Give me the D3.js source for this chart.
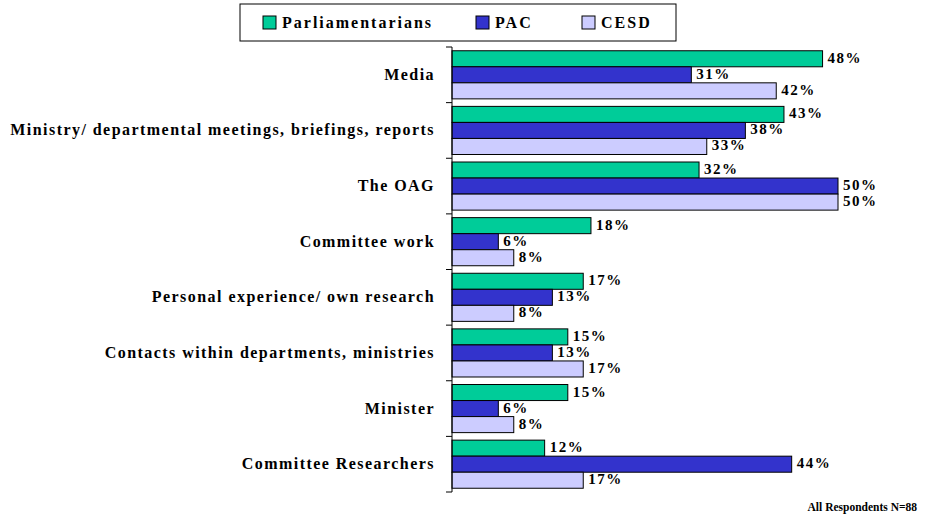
<!DOCTYPE html>
<html>
<head>
<meta charset="utf-8">
<script src="https://cdn.jsdelivr.net/npm/d3@7"></script>
<style>
    body { margin: 0; background: #fff; }
</style>
</head>
<body>
<div id="graph"></div>
<script>
    "use strict";

    var categories = [
        "Media",
        "Ministry/ departmental meetings, briefings, reports",
        "The OAG",
        "Committee work",
        "Personal experience/ own research",
        "Contacts within departments, ministries",
        "Minister",
        "Committee Researchers"
    ];
    var seriesNames = ["Parliamentarians", "PAC", "CESD"];
    var parliamentarians = [48, 43, 32, 18, 17, 15, 15, 12];
    var pac = [31, 38, 50, 6, 13, 13, 6, 44];
    var cesd = [42, 33, 50, 8, 8, 17, 8, 17];
    var seriesColors = ["#00cc99", "#3333cc", "#ccccff"];
    var footnote = "All Respondents N=88";

    var allSeries = [parliamentarians, pac, cesd];
    var serif = "'Liberation Serif', 'Times New Roman', 'DejaVu Serif', serif";

    var svg = d3.select("#graph")
        .append("svg")
        .attr("width", 933)
        .attr("height", 517)
        .attr("font-family", serif)
        .attr("font-weight", "bold");

    var x = d3.scaleLinear().domain([0, 50]).range([452, 838]);
    var y = d3.scaleBand().domain(categories).range([47, 492]).paddingInner(0.135).paddingOuter(0.0675);
    var ySub = d3.scaleBand().domain(d3.range(seriesNames.length)).range([0, y.bandwidth()]);

    // bars
    var groups = svg.selectAll("g.cat")
        .data(categories)
        .enter().append("g")
        .attr("class", "cat")
        .attr("transform", function (d) { return "translate(0," + y(d) + ")"; });

    groups.selectAll("rect")
        .data(function (d, i) { return allSeries.map(function (s, k) { return {k: k, v: s[i]}; }); })
        .enter().append("rect")
        .attr("x", x(0))
        .attr("y", function (d) { return ySub(d.k); })
        .attr("width", function (d) { return x(d.v) - x(0); })
        .attr("height", ySub.bandwidth())
        .style("fill", function (d) { return seriesColors[d.k]; })
        .style("stroke", "#000")
        .style("stroke-width", 1);

    groups.selectAll("text.val")
        .data(function (d, i) { return allSeries.map(function (s, k) { return {k: k, v: s[i]}; }); })
        .enter().append("text")
        .attr("class", "val")
        .attr("x", function (d) { return x(d.v) + 5; })
        .attr("y", function (d) { return ySub(d.k) + ySub.bandwidth() / 2 + 4; })
        .style("font-size", "15px")
        .style("letter-spacing", "1.5px")
        .text(function (d) { return d.v + "%"; });

    // axis
    var axisG = svg.append("g");
    axisG.append("line")
        .attr("x1", x(0)).attr("x2", x(0))
        .attr("y1", 47).attr("y2", 492)
        .style("stroke", "#000");
    var edges = categories.map(function (d) { return y(d) - y.step() * y.paddingInner() / 2; });
    edges.push(492);
    axisG.selectAll("line.tick")
        .data(edges)
        .enter().append("line")
        .attr("class", "tick")
        .attr("x1", x(0) - 6).attr("x2", x(0))
        .attr("y1", function (d) { return d; }).attr("y2", function (d) { return d; })
        .style("stroke", "#000");

    svg.selectAll("text.cat")
        .data(categories)
        .enter().append("text")
        .attr("class", "cat")
        .attr("x", 435)
        .attr("y", function (d) { return y(d) + y.bandwidth() / 2 + 5; })
        .attr("text-anchor", "end")
        .style("font-size", "16px")
        .style("letter-spacing", "1.45px")
        .text(function (d) { return d; });

    // legend
    var legend = svg.append("g");
    legend.append("rect")
        .attr("x", 240).attr("y", 4)
        .attr("width", 436).attr("height", 37)
        .style("fill", "#fff")
        .style("stroke", "#000");
    var legendX = [263, 476, 582];
    seriesNames.forEach(function (name, k) {
        legend.append("rect")
            .attr("x", legendX[k]).attr("y", 16)
            .attr("width", 13).attr("height", 13)
            .style("fill", seriesColors[k])
            .style("stroke", "#000");
        legend.append("text")
            .attr("x", legendX[k] + 19).attr("y", 28)
            .style("font-size", "16px")
            .style("letter-spacing", "2px")
            .text(name);
    });

    svg.append("text")
        .attr("x", 917).attr("y", 511)
        .attr("text-anchor", "end")
        .style("font-size", "11.5px")
        .text(footnote);
</script>
</body>
</html>
